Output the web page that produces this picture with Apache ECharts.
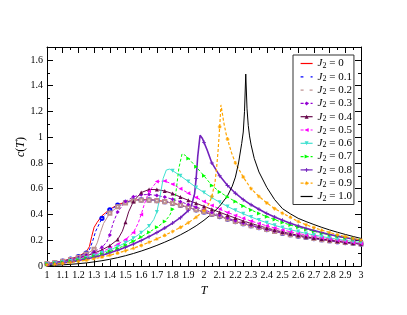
<!DOCTYPE html>
<html><head><meta charset="utf-8">
<script src="https://cdn.jsdelivr.net/npm/echarts@6/dist/echarts.min.js"></script>
<style>html,body{margin:0;padding:0;background:#fff}#c{width:407px;height:315px}</style>
</head><body><div id="c"></div>
<script>
// ---- data: [T, c(T)] ----
const J2_00 = [[1.00,.020],[1.05,.028],[1.10,.040],[1.15,.055],[1.20,.075],[1.25,.110],[1.27,.150],[1.285,.230],[1.30,.300],[1.32,.340],[1.35,.390],[1.40,.440],[1.45,.475],[1.50,.497],[1.55,.510],[1.60,.515],[1.65,.515],[1.70,.510],[1.75,.500],[1.80,.488],[1.85,.472],[1.90,.455],[1.95,.437],[2.00,.420],[2.05,.402],[2.10,.385],[2.15,.365],[2.20,.345],[2.25,.328],[2.30,.313],[2.35,.298],[2.40,.283],[2.45,.268],[2.50,.255],[2.55,.243],[2.60,.232],[2.65,.222],[2.70,.213],[2.75,.204],[2.80,.196],[2.85,.189],[2.90,.182],[2.95,.176],[3.00,.170]];
const J2_01 = [[1.00,.019],[1.05,.027],[1.10,.038],[1.15,.053],[1.20,.072],[1.25,.100],[1.27,.125],[1.29,.190],[1.31,.270],[1.33,.320],[1.35,.370],[1.40,.435],[1.45,.472],[1.50,.495],[1.55,.508],[1.60,.513],[1.65,.513],[1.70,.508],[1.75,.499],[1.80,.487],[1.85,.471],[1.90,.454],[1.95,.436],[2.00,.419],[2.05,.401],[2.10,.384],[2.15,.364],[2.20,.345],[2.25,.328],[2.30,.313],[2.35,.298],[2.40,.283],[2.45,.268],[2.50,.255],[2.55,.243],[2.60,.232],[2.65,.222],[2.70,.213],[2.75,.204],[2.80,.196],[2.85,.189],[2.90,.182],[2.95,.176],[3.00,.170]];
const J2_02 = [[1.00,.018],[1.05,.026],[1.10,.036],[1.15,.050],[1.20,.068],[1.25,.092],[1.30,.130],[1.32,.180],[1.34,.260],[1.36,.330],[1.40,.410],[1.45,.460],[1.50,.490],[1.55,.505],[1.60,.512],[1.65,.512],[1.70,.508],[1.75,.499],[1.80,.487],[1.85,.472],[1.90,.455],[1.95,.438],[2.00,.421],[2.05,.403],[2.10,.386],[2.15,.366],[2.20,.347],[2.25,.330],[2.30,.314],[2.35,.299],[2.40,.284],[2.45,.269],[2.50,.256],[2.55,.244],[2.60,.233],[2.65,.223],[2.70,.214],[2.75,.205],[2.80,.197],[2.85,.190],[2.90,.183],[2.95,.177],[3.00,.171]];
const J2_03 = [[1.00,.017],[1.05,.025],[1.10,.035],[1.15,.048],[1.20,.064],[1.25,.085],[1.30,.110],[1.35,.145],[1.38,.185],[1.40,.240],[1.42,.330],[1.45,.420],[1.50,.500],[1.55,.537],[1.60,.553],[1.65,.555],[1.70,.548],[1.75,.535],[1.80,.518],[1.85,.499],[1.90,.478],[1.95,.457],[2.00,.436],[2.05,.415],[2.10,.394],[2.15,.372],[2.20,.352],[2.25,.334],[2.30,.317],[2.35,.301],[2.40,.286],[2.45,.271],[2.50,.258],[2.55,.246],[2.60,.235],[2.65,.225],[2.70,.215],[2.75,.206],[2.80,.198],[2.85,.190],[2.90,.183],[2.95,.177],[3.00,.171]];
const J2_04 = [[1.00,.016],[1.05,.024],[1.10,.033],[1.15,.045],[1.20,.060],[1.25,.078],[1.30,.100],[1.35,.125],[1.40,.158],[1.45,.205],[1.48,.270],[1.50,.340],[1.52,.420],[1.55,.500],[1.60,.570],[1.65,.594],[1.70,.593],[1.75,.582],[1.80,.562],[1.85,.535],[1.90,.510],[1.95,.487],[2.00,.463],[2.05,.440],[2.10,.417],[2.15,.394],[2.20,.372],[2.25,.350],[2.30,.330],[2.35,.312],[2.40,.295],[2.45,.279],[2.50,.264],[2.55,.251],[2.60,.239],[2.65,.228],[2.70,.218],[2.75,.209],[2.80,.200],[2.85,.192],[2.90,.185],[2.95,.178],[3.00,.172]];
const J2_05 = [[1.00,.015],[1.05,.022],[1.10,.031],[1.15,.042],[1.20,.055],[1.25,.071],[1.30,.090],[1.35,.112],[1.40,.138],[1.45,.168],[1.50,.205],[1.55,.260],[1.58,.330],[1.60,.400],[1.62,.480],[1.65,.580],[1.70,.655],[1.75,.660],[1.80,.635],[1.85,.600],[1.90,.565],[1.95,.532],[2.00,.500],[2.05,.470],[2.10,.442],[2.15,.416],[2.20,.392],[2.25,.370],[2.30,.349],[2.35,.330],[2.40,.312],[2.45,.295],[2.50,.280],[2.55,.266],[2.60,.253],[2.65,.241],[2.70,.230],[2.75,.219],[2.80,.209],[2.85,.200],[2.90,.191],[2.95,.183],[3.00,.175]];
const J2_06 = [[1.00,.014],[1.05,.021],[1.10,.029],[1.15,.039],[1.20,.051],[1.25,.065],[1.30,.082],[1.35,.102],[1.40,.124],[1.45,.150],[1.50,.180],[1.55,.215],[1.60,.258],[1.65,.310],[1.68,.360],[1.70,.420],[1.72,.540],[1.74,.680],[1.76,.745],[1.78,.752],[1.80,.740],[1.85,.700],[1.90,.655],[1.95,.610],[2.00,.570],[2.05,.530],[2.10,.495],[2.15,.462],[2.20,.432],[2.25,.405],[2.30,.380],[2.35,.357],[2.40,.336],[2.45,.316],[2.50,.298],[2.55,.282],[2.60,.267],[2.65,.253],[2.70,.241],[2.75,.229],[2.80,.218],[2.85,.208],[2.90,.199],[2.95,.190],[3.00,.182]];
const J2_07 = [[1.00,.013],[1.05,.019],[1.10,.027],[1.15,.036],[1.20,.047],[1.25,.060],[1.30,.075],[1.35,.093],[1.40,.113],[1.45,.136],[1.50,.162],[1.55,.192],[1.60,.226],[1.65,.262],[1.70,.300],[1.75,.345],[1.78,.390],[1.80,.440],[1.82,.560],[1.84,.760],[1.86,.870],[1.88,.860],[1.90,.835],[1.95,.770],[2.00,.700],[2.05,.625],[2.10,.575],[2.15,.535],[2.20,.500],[2.25,.465],[2.30,.435],[2.35,.408],[2.40,.383],[2.45,.360],[2.50,.338],[2.55,.318],[2.60,.300],[2.65,.284],[2.70,.269],[2.75,.255],[2.80,.242],[2.85,.230],[2.90,.219],[2.95,.209],[3.00,.200]];
const J2_08 = [[1.00,.012],[1.05,.017],[1.10,.024],[1.15,.032],[1.20,.042],[1.25,.054],[1.30,.068],[1.35,.084],[1.40,.102],[1.45,.122],[1.50,.145],[1.55,.170],[1.60,.198],[1.65,.228],[1.70,.260],[1.75,.295],[1.80,.333],[1.85,.375],[1.90,.430],[1.92,.470],[1.94,.560],[1.95,.680],[1.96,.850],[1.975,1.015],[1.99,.990],[2.00,.960],[2.02,.900],[2.05,.800],[2.10,.700],[2.15,.625],[2.20,.565],[2.25,.515],[2.30,.475],[2.35,.440],[2.40,.408],[2.45,.380],[2.50,.355],[2.55,.332],[2.60,.311],[2.65,.292],[2.70,.275],[2.75,.259],[2.80,.245],[2.85,.232],[2.90,.220],[2.95,.209],[3.00,.199]];
const J2_09 = [[1.00,.010],[1.05,.014],[1.10,.020],[1.15,.027],[1.20,.035],[1.25,.045],[1.30,.056],[1.35,.069],[1.40,.084],[1.45,.100],[1.50,.118],[1.55,.138],[1.60,.160],[1.65,.184],[1.70,.210],[1.75,.238],[1.80,.268],[1.85,.300],[1.90,.336],[1.95,.378],[2.00,.430],[2.03,.480],[2.05,.540],[2.07,.650],[2.08,.760],[2.09,.900],[2.10,1.080],[2.108,1.250],[2.115,1.200],[2.125,1.120],[2.14,1.030],[2.15,.985],[2.175,.880],[2.20,.800],[2.25,.690],[2.30,.600],[2.35,.540],[2.40,.490],[2.45,.445],[2.50,.410],[2.55,.378],[2.60,.345],[2.65,.320],[2.70,.298],[2.75,.278],[2.80,.260],[2.85,.243],[2.90,.228],[2.95,.214],[3.00,.202]];
const J2_10 = [[1.00,.004],[1.05,.006],[1.10,.009],[1.15,.013],[1.20,.018],[1.25,.024],[1.30,.032],[1.35,.041],[1.40,.052],[1.45,.065],[1.50,.080],[1.55,.097],[1.60,.116],[1.65,.137],[1.70,.160],[1.75,.185],[1.80,.212],[1.85,.242],[1.90,.275],[1.95,.312],[2.00,.355],[2.05,.405],[2.10,.465],[2.15,.545],[2.18,.620],[2.20,.690],[2.22,.800],[2.24,.950],[2.25,1.040],[2.258,1.200],[2.266,1.490],[2.274,1.220],[2.282,1.090],[2.29,1.010],[2.30,.940],[2.32,.835],[2.35,.730],[2.40,.610],[2.45,.515],[2.50,.445],[2.55,.405],[2.60,.370],[2.65,.345],[2.70,.322],[2.75,.300],[2.80,.280],[2.85,.262],[2.90,.245],[2.95,.229],[3.00,.214]];

const seriesData = [J2_00,J2_01,J2_02,J2_03,J2_04,J2_05,J2_06,J2_07,J2_08,J2_09,J2_10];
const legendNames = ['0','0.1','0.2','0.3','0.4','0.5','0.6','0.7','0.8','0.9','1.0'];
const xTickLabels = ['1','1.1','1.2','1.3','1.4','1.5','1.6','1.7','1.8','1.9','2','2.1','2.2','2.3','2.4','2.5','2.6','2.7','2.8','2.9','3'];

// ---- styles ----
const PLUS = 'path://M3.1,0h1.8v8h-1.8zM0,3.1h8v1.8h-8z';
const STAR = 'path://M3.4,0h1.2v8h-1.2zM0,3.4h8v1.2h-8zM0.9,1.7l0.8,-0.8l5.4,5.4l-0.8,0.8zM0.9,6.3l5.4,-5.4l0.8,0.8l-5.4,5.4z';
const styles = [
  {color:'#ff0000', symbol:'none', dash:'solid', w:1},
  {color:'#0000ff', symbol:'emptyCircle', size:3.2, dash:[3,2], w:1},
  {color:'#bc8f8f', symbol:'emptyRect', size:3.2, dash:'solid', w:1},
  {color:'#9400d3', symbol:'diamond', size:4, dash:[3,2], w:1},
  {color:'#67074a', symbol:'triangle', size:4, dash:'solid', w:1},
  {color:'#ff00ff', symbol:'triangle', rot:90, size:4, dash:[3,2], w:1},
  {color:'#40e0d0', symbol:'triangle', rot:180, size:4, dash:'solid', w:1},
  {color:'#00ff00', symbol:'triangle', rot:-90, size:4, dash:[3,2], w:1},
  {color:'#7221bc', symbol:PLUS, size:4, dash:'solid', w:1.6},
  {color:'#ffa500', symbol:STAR, size:4, dash:[3,2], w:1.2},
  {color:'#000000', symbol:'none', dash:'solid', w:1}
];

const FONT = '"Liberation Serif","Times New Roman",serif';
const onGrid = t => Math.abs(t*20 - Math.round(t*20)) < 1e-6;
const isEmpty = s => s.symbol.indexOf('empty') === 0;

const series = seriesData.map((arr, i) => {
  const s = styles[i];
  return {
    name: legendNames[i],
    type: 'line',
    xAxisIndex: 0, yAxisIndex: 0,
    symbol: s.symbol,
    symbolSize: s.size || 4,
    symbolRotate: s.rot || 0,
    showSymbol: s.symbol !== 'none',
    animation: false,
    color: s.color,
    lineStyle: {color: s.color, width: s.w, type: s.dash},
    itemStyle: {color: s.color, borderColor: s.color, borderWidth: isEmpty(s) ? 0.8 : 0},
    emphasis: {disabled: true},
    data: arr.map(p => (onGrid(p[0]) ? {value: p} : {value: p, symbol: 'none'}))
  };
});

const legendData = legendNames.map((n, i) => {
  const s = styles[i];
  return {
    name: n,
    lineStyle: {color: s.color, width: 1.2, type: s.dash, opacity: 1},
    itemStyle: s.symbol === 'none'
      ? {opacity: 0}
      : {color: isEmpty(s) ? '#fff' : s.color, borderColor: s.color, borderWidth: isEmpty(s) ? 1 : 0, opacity: 1}
  };
});

const tickCommon = {inside: true, length: 6, lineStyle: {color: '#000', width: 1}};
const minorCommon = {show: true, splitNumber: 2, length: 3, lineStyle: {color: '#000', width: 1}};
const lineCommon = {show: true, onZero: false, lineStyle: {color: '#000', width: 1}};

const option = {
  backgroundColor: '#fff',
  animation: false,
  grid: {left: 47, right: 46, top: 47, bottom: 49},
  xAxis: [
    {type: 'value', min: 1, max: 3, interval: 0.1, position: 'bottom',
     axisLine: lineCommon, axisTick: tickCommon, minorTick: minorCommon, splitLine: {show: false},
     axisLabel: {color: '#000', fontFamily: FONT, fontSize: 10, margin: 4,
       formatter: v => xTickLabels[Math.round((v - 1) * 10)] ?? ''},
     name: 'T', nameLocation: 'middle', nameGap: 10,
     nameTextStyle: {color: '#000', fontFamily: FONT, fontSize: 12, fontStyle: 'italic'}},
    {type: 'value', min: 1, max: 3, interval: 0.1, position: 'top',
     axisLine: lineCommon, axisTick: tickCommon, minorTick: minorCommon, splitLine: {show: false},
     axisLabel: {show: false}}
  ],
  yAxis: [
    {type: 'value', min: 0, max: 1.7, interval: 0.2, position: 'left',
     axisLine: lineCommon, axisTick: tickCommon, minorTick: minorCommon, splitLine: {show: false},
     axisLabel: {color: '#000', fontFamily: FONT, fontSize: 10, margin: 4, showMaxLabel: false,
       formatter: v => (v > 1.65 ? '' : String(Math.round(v * 10) / 10))}},
    {type: 'value', min: 0, max: 1.7, interval: 0.2, position: 'right',
     axisLine: lineCommon, axisTick: tickCommon, minorTick: minorCommon, splitLine: {show: false},
     axisLabel: {show: false}}
  ],
  legend: {
    orient: 'vertical', left: 293, top: 55,
    padding: [3, 2, 2, 7],
    itemWidth: 12, itemHeight: 5, itemGap: 1.8,
    borderColor: '#333', borderWidth: 1, backgroundColor: '#fff',
    selectedMode: false,
    data: legendData,
    formatter: n => '{j|J}{s|2}{t| = ' + n + '}',
    textStyle: {
      color: '#000', fontFamily: FONT, fontSize: 11,
      rich: {
        j: {fontFamily: FONT, fontSize: 11, fontStyle: 'italic', lineHeight: 12},
        s: {fontFamily: FONT, fontSize: 8, lineHeight: 6, verticalAlign: 'bottom'},
        t: {fontFamily: FONT, fontSize: 11, lineHeight: 12}
      }
    }
  },
  graphic: [{
    type: 'text', x: 21, y: 147, rotation: Math.PI / 2,
    style: {
      text: '{i|c}{n|(}{i|T}{n|)}', align: 'center', verticalAlign: 'middle',
      rich: {
        i: {fontFamily: FONT, fontSize: 12, fontStyle: 'italic', fill: '#000'},
        n: {fontFamily: FONT, fontSize: 12, fill: '#000'}
      }
    }
  }],
  series: series
};

const chart = echarts.init(document.getElementById('c'), null, {renderer: 'canvas'});
chart.setOption(option);
</script>
</body></html>
